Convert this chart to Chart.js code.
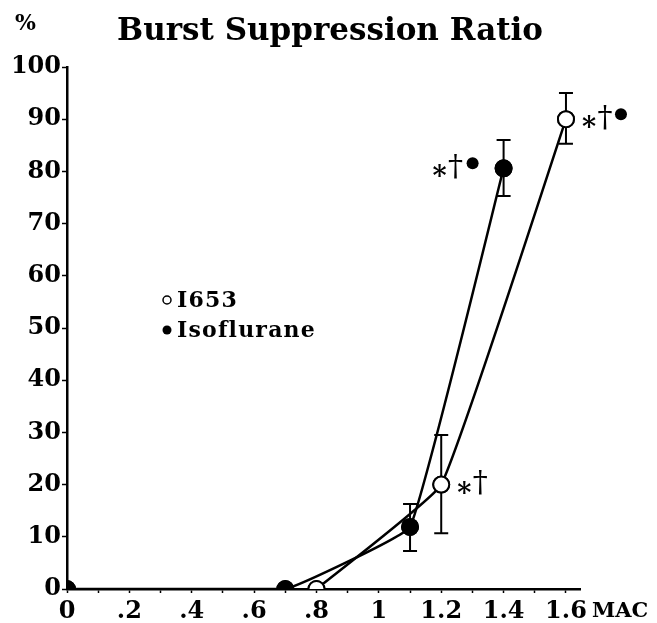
<!DOCTYPE html>
<html>
<head>
<meta charset="utf-8">
<script src="https://cdn.jsdelivr.net/npm/chart.js@4"></script>
<style>
  body { margin: 0; background: #fff; }
  #wrap { width: 657px; height: 623px; position: relative; }
</style>
</head>
<body>
<div id="wrap"><canvas id="chart"></canvas></div>
<script>
// values
const macI653 = [0.8, 1.2, 1.6];
const ratioI653 = [0, 20, 90];
const lowI653 = [null, 10.7, 85.3];
const highI653 = [null, 29.5, 95];

const macIso = [0, 0.7, 1.1, 1.4];
const ratioIso = [0, 0, 11.9, 80.6];
const lowIso = [null, null, 7.3, 75.3];
const highIso = [null, null, 16.3, 86];

const xTickLabels = ["0", ".2", ".4", ".6", ".8", "1", "1.2", "1.4", "1.6"];

// significance marks: dataset, point index, symbols
const marks = [
  { ds: 1, i: 3, side: "left", text: ["*", "†", "•"] },
  { ds: 0, i: 2, side: "right", text: ["*", "†", "•"] },
  { ds: 0, i: 1, side: "right", text: ["*", "†"] }
];

const serif = "'DejaVu Serif', serif";
const toPts = (xs, ys) => xs.map((x, i) => ({ x: x, y: ys[i] }));

function glyph(ctx, s, cx, cy) {
  const m = ctx.measureText(s);
  ctx.fillText(s, cx - (m.actualBoundingBoxRight - m.actualBoundingBoxLeft) / 2,
    cy + (m.actualBoundingBoxAscent - m.actualBoundingBoxDescent) / 2);
}

const extras = {
  id: "extras",
  afterDatasetsDraw(chart) {
    const ctx = chart.ctx;
    const xs = chart.scales.x, ys = chart.scales.y;
    const area = chart.chartArea;
    ctx.save();
    ctx.strokeStyle = "#000";
    ctx.lineWidth = 2;
    // error bars
    [[macI653, lowI653, highI653], [macIso, lowIso, highIso]].forEach(([mx, lo, hi]) => {
      mx.forEach((m, i) => {
        if (lo[i] == null) return;
        const px = xs.getPixelForValue(m);
        const y1 = ys.getPixelForValue(lo[i]), y2 = ys.getPixelForValue(hi[i]);
        ctx.beginPath();
        ctx.moveTo(px, y1); ctx.lineTo(px, y2);
        ctx.moveTo(px - 7, y1); ctx.lineTo(px + 7, y1);
        ctx.moveTo(px - 7, y2); ctx.lineTo(px + 7, y2);
        ctx.stroke();
      });
    });
    // redraw points above error bars, clipped to the plot
    ctx.save();
    ctx.beginPath();
    ctx.rect(area.left, area.top - 20, area.right - area.left + 80, area.bottom - area.top + 20);
    ctx.clip();
    chart.getSortedVisibleDatasetMetas().forEach(meta => {
      meta.data.forEach(p => p.draw(ctx, area));
    });
    ctx.restore();
    // significance marks
    ctx.fillStyle = "#000";
    marks.forEach(mk => {
      const p = chart.getDatasetMeta(mk.ds).data[mk.i];
      const offs = mk.side === "left" ? [-64, -48, -31] : [23, 39, 55];
      const dys = [3, -2, -5];
      mk.text.forEach((t, k) => {
        const cx = p.x + offs[k], cy = p.y + dys[k];
        if (t === "•") {
          ctx.beginPath(); ctx.arc(cx, cy, 6, 0, Math.PI * 2); ctx.fill();
        } else if (t === "*") {
          ctx.font = "bold 27px " + serif; glyph(ctx, t, cx, cy);
        } else {
          ctx.font = "30px " + serif; glyph(ctx, t, cx, cy);
        }
      });
    });
    ctx.restore();
  },
  afterDraw(chart) {
    const ctx = chart.ctx;
    ctx.save();
    ctx.fillStyle = "#000";
    ctx.strokeStyle = "#000";
    ctx.textBaseline = "alphabetic";
    ctx.font = "bold 31px " + serif;
    ctx.textAlign = "center";
    ctx.fillText("Burst Suppression Ratio", 330, 40);
    ctx.textAlign = "left";
    ctx.font = "bold 22px " + serif;
    ctx.fillText("%", 15, 30);
    ctx.font = "bold 21px " + serif;
    ctx.fillText("MAC", 592, 617);
    // legend
    ctx.font = "bold 22px " + serif;
    ctx.letterSpacing = "1.2px";
    ctx.fillText("I653", 177, 307);
    ctx.fillText("Isoflurane", 177, 337);
    ctx.letterSpacing = "0px";
    ctx.lineWidth = 1.5;
    ctx.beginPath(); ctx.arc(167, 300, 4, 0, Math.PI * 2); ctx.stroke();
    ctx.beginPath(); ctx.arc(167, 330, 4.5, 0, Math.PI * 2); ctx.fill();
    ctx.restore();
  }
};

new Chart(document.getElementById("chart"), {
  type: "line",
  data: {
    datasets: [
      {
        label: "I653",
        data: toPts(macI653, ratioI653),
        borderColor: "#000",
        borderWidth: 2.5,
        pointRadius: 8,
        pointBorderWidth: 2,
        pointBackgroundColor: "#fff",
        pointBorderColor: "#000",
        tension: 0.1
      },
      {
        label: "Isoflurane",
        data: toPts(macIso, ratioIso),
        borderColor: "#000",
        borderWidth: 2.5,
        pointRadius: 8,
        pointBorderWidth: 2,
        pointBackgroundColor: "#000",
        pointBorderColor: "#000",
        tension: 0.08
      }
    ]
  },
  options: {
    responsive: true,
    maintainAspectRatio: false,
    animation: false,
    layout: { padding: { top: 67, right: 77, left: 0, bottom: 0 } },
    plugins: { legend: { display: false }, tooltip: { enabled: false } },
    scales: {
      x: {
        type: "linear",
        min: 0,
        max: 1.645,
        afterFit: s => { s.height = 34; },
        border: { color: "#000", width: 2.5 },
        grid: { display: true, drawOnChartArea: false, tickLength: 4, tickColor: "#000", tickWidth: 1.5 },
        ticks: {
          stepSize: 0.1,
          includeBounds: false,
          autoSkip: false,
          maxRotation: 0,
          padding: 4,
          color: "#000",
          font: { family: serif, weight: "bold", size: 24 },
          callback: v => {
            const k = Math.round(v * 10);
            return k % 2 === 0 ? xTickLabels[k / 2] : "";
          }
        }
      },
      y: {
        min: 0,
        max: 100,
        afterFit: s => { s.width = 67; },
        border: { color: "#000", width: 2.5 },
        grid: { display: true, drawOnChartArea: false, tickLength: 5, tickColor: "#000", tickWidth: 1.5 },
        ticks: {
          stepSize: 10,
          padding: 1,
          color: "#000",
          font: { family: serif, weight: "bold", size: 24 }
        }
      }
    }
  },
  plugins: [extras]
});
</script>
</body>
</html>
